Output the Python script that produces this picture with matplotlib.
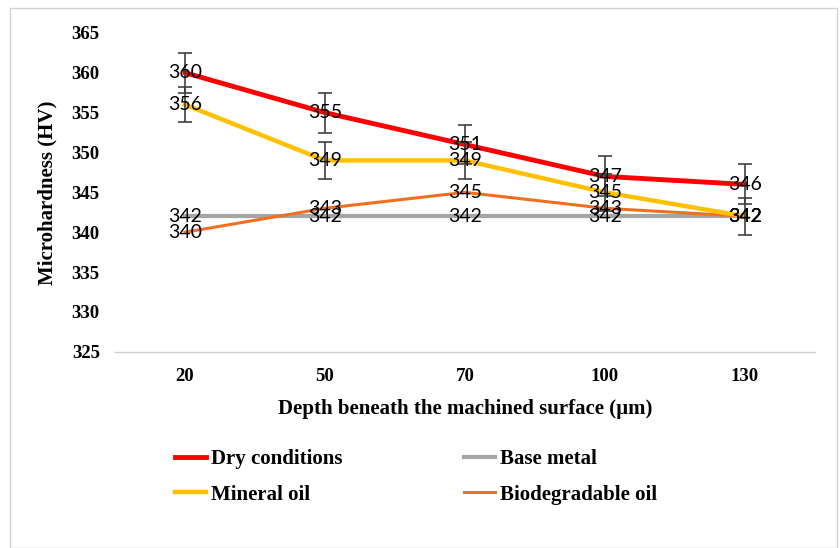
import matplotlib.pyplot as plt
import numpy as np

# depth positions and measured hardness
depths = ['20', '50', '70', '100', '130']
dry = [360, 355, 351, 347, 346]
base_metal = [342, 342, 342, 342, 342]
mineral = [356, 349, 349, 345, 342]
bio = [340, 343, 345, 343, 342]
dry_err = [2.5, 2.5, 2.5, 2.5, 2.5]
mineral_err = [2.2, 2.3, 2.3, 2.3, 2.3]

serif = 'Liberation Serif'
label_font = 'Lato'

fig = plt.figure(figsize=(8.4, 5.48), dpi=100)
ax = fig.add_axes([0.137, 0.358, 0.833, 0.582])

x = np.arange(len(depths))

ax.plot(x, base_metal, color='#A5A5A5', lw=3, label='Base metal', zorder=2)
ax.plot(x, bio, color='#F07020', lw=2.2, label='Biodegradable oil', zorder=3)
ax.plot(x, mineral, color='#FFC000', lw=3.2, label='Mineral oil', zorder=4)
ax.plot(x, dry, color='#FF0000', lw=3.5, label='Dry conditions', zorder=5)

ax.errorbar(x, dry, yerr=dry_err, fmt='none', ecolor='#404040', elinewidth=1.2,
            capsize=5, capthick=1.2, zorder=6)
ax.errorbar(x, mineral, yerr=mineral_err, fmt='none', ecolor='#404040', elinewidth=1.2,
            capsize=5, capthick=1.2, zorder=6)

# value labels sitting on each point
for series in (base_metal, bio, mineral, dry):
    for i, v in enumerate(series):
        ax.text(x[i], v, str(v), ha='center', va='center', fontsize=14,
                family=label_font, color='black', zorder=7)

ax.set_xlim(-0.5, len(depths) - 0.5)
ax.set_ylim(325, 365)
ax.set_yticks(np.arange(325, 366, 5))
ax.set_xticks(x)
ax.set_xticklabels(depths)

for sp in ['top', 'right', 'left']:
    ax.spines[sp].set_visible(False)
ax.spines['bottom'].set_color('#D0D0D0')
ax.spines['bottom'].set_linewidth(1)
ax.tick_params(axis='both', length=0, labelsize=13.5)
ax.tick_params(axis='y', pad=11)
ax.tick_params(axis='x', pad=12)
for t in ax.get_xticklabels() + ax.get_yticklabels():
    t.set_fontfamily(serif)
    t.set_fontweight('bold')

ax.set_ylabel('Microhardness (HV)', fontsize=15, family=serif, fontweight='bold', labelpad=10)
ax.set_xlabel('Depth beneath the machined surface (µm)', fontsize=15, family=serif,
              fontweight='bold', labelpad=10)

handles, labels = ax.get_legend_handles_labels()
order = [3, 2, 0, 1]
leg = fig.legend([handles[i] for i in order], [labels[i] for i in order], ncol=2,
                 loc='upper left', bbox_to_anchor=(0.186, 0.215), frameon=False,
                 prop={'family': serif, 'weight': 'bold', 'size': 15},
                 handlelength=1.5, handletextpad=0.25, columnspacing=5.8, labelspacing=0.75)

# thin outline around the whole figure
fig.patches.append(plt.Rectangle((0.012, 0.0), 0.985, 0.985, transform=fig.transFigure,
                                 fill=False, edgecolor='#D0D0D0', lw=1))

fig.savefig('out.png', dpi=100)
